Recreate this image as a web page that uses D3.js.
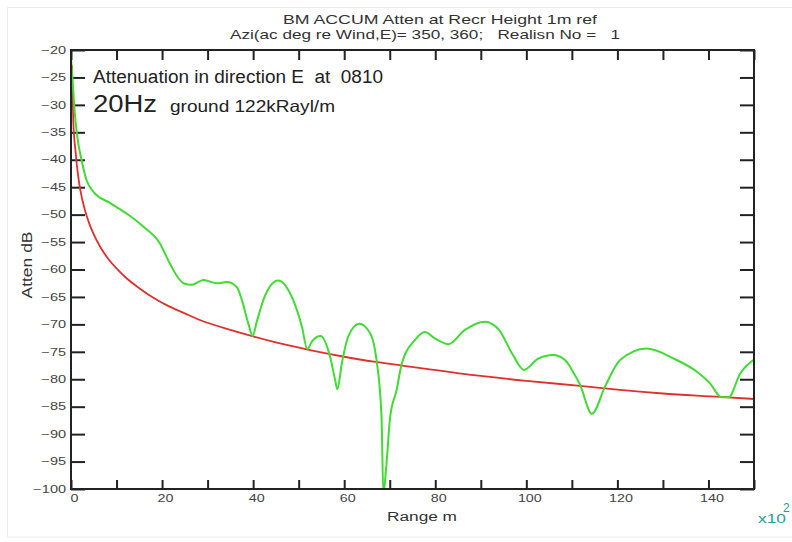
<!DOCTYPE html>
<html>
<head>
<meta charset="utf-8">
<script src="https://cdn.jsdelivr.net/npm/d3@7"></script>
<style>
  body { margin: 0; background: #fff; }
  text { font-family: "Liberation Sans", Arial, sans-serif; white-space: pre; }
</style>
</head>
<body>
<div id="chart"></div>
<script>
// Range (x100 m) and attenuation (dB)
const rangeGround = [0, 0.3, 0.9, 1.5, 2.3, 3.4, 4.9, 8.6, 12.2, 15.9, 19.5, 21.7, 24.7, 26.5, 29.1, 32, 34.2, 36.4, 37.5, 39, 39.9, 40.8, 42.5, 45.5, 48.8, 50.7, 51.9, 53, 54.8, 56.9, 58, 58.5, 59.5, 60.9, 63.3, 65.7, 67.1, 68.2, 68.6, 69.2, 70.1, 71.5, 72.6, 75.6, 77.7, 80, 82.9, 86.5, 90.9, 94, 97, 99.5, 102.5, 105.9, 108.5, 110.5, 111.8, 114.4, 117.3, 120.6, 126.4, 132.3, 137.4, 140.3, 142.9, 144.4, 147, 150];
const attenGround = [-21.5, -25, -32.2, -36.5, -40, -43.7, -45.8, -47.9, -49.8, -52.2, -55.2, -58.9, -62.5, -62.8, -61.9, -62.5, -62.3, -63.2, -65.5, -70, -72.1, -69.5, -65, -62, -65.6, -70.4, -74.5, -73, -72.1, -75.9, -80.1, -81.8, -77, -72.2, -69.9, -71.6, -76.5, -86.8, -101, -96.3, -86.8, -82, -77.3, -72.8, -71.4, -72.6, -73.6, -71, -69.5, -71, -75.5, -78.3, -76.3, -75.6, -76.5, -79, -81, -86.3, -81.3, -76.5, -74.4, -76.2, -78.6, -80.7, -83.3, -83.3, -78.9, -76.4];

const rangeRef = [0.2, 0.5, 1, 1.5, 2, 3, 4, 5, 6.5, 8.5, 10, 12.2, 15, 18, 21, 25, 28.3, 35, 40, 45, 52.5, 60, 66.5, 72.7, 78.8, 90, 100, 111.8, 120, 130, 142.5, 150];
const attenRef = [-22.8, -33, -38.5, -42.5, -45.3, -49, -51.6, -53.6, -56, -58.4, -59.8, -61.6, -63.4, -65.1, -66.5, -68, -69.2, -71, -72.2, -73.3, -74.7, -75.9, -76.8, -77.5, -78.2, -79.4, -80.3, -81.2, -81.9, -82.6, -83.2, -83.6];

const xTicks = d3.range(0, 151, 10);
const xLabels = [0, 20, 40, 60, 80, 100, 120, 140];
const yTicks = d3.range(-100, -19, 5);

const width = 792, height = 542;
const margin = {top: 50, right: 38, bottom: 53, left: 71};

const svg = d3.select('#chart')
    .append('svg')
    .attr('width', width)
    .attr('height', height);

// widen a text to k times its natural length
function stretch(sel, k) {
    sel.each(function() {
        const len = this.getComputedTextLength();
        if (len > 0) {
            d3.select(this).attr('textLength', len * k).attr('lengthAdjust', 'spacingAndGlyphs');
        }
    });
}

svg.append('rect')
    .attr('x', 7.5).attr('y', 7.5)
    .attr('width', 800).attr('height', 529.5)
    .attr('fill', '#fff')
    .attr('stroke', '#ececec');

const x = d3.scaleLinear().domain([0, 150]).range([margin.left, width - margin.right]);
const y = d3.scaleLinear().domain([-100, -20]).range([height - margin.bottom, margin.top]);

svg.append('clipPath').attr('id', 'plot')
    .append('rect')
    .attr('x', x(0)).attr('y', y(-20))
    .attr('width', x(150) - x(0)).attr('height', y(-100) - y(-20));

// Axes, ticks pointing inwards
const axisColor = '#222';
const axisBottomG = svg.append('g')
    .attr('transform', `translate(0,${y(-100)})`)
    .call(d3.axisBottom(x).tickValues(xTicks).tickSizeInner(-9).tickSizeOuter(0).tickPadding(5)
        .tickFormat(d => xLabels.includes(d) ? d : ''));
axisBottomG.selectAll('text').attr('font-size', '11px').attr('fill', '#444').attr('dx', 3)
    .call(stretch, 1.3);

const axisTopG = svg.append('g')
    .attr('transform', `translate(0,${y(-20)})`)
    .call(d3.axisTop(x).tickValues(xTicks).tickSizeInner(-10).tickSizeOuter(0).tickFormat(''));

const axisLeftG = svg.append('g')
    .attr('transform', `translate(${x(0)},0)`)
    .call(d3.axisLeft(y).tickValues(yTicks).tickSizeInner(-14).tickSizeOuter(0).tickPadding(5));
axisLeftG.selectAll('text').attr('font-size', '10px').attr('fill', '#444')
    .call(stretch, 1.45);

const axisRightG = svg.append('g')
    .attr('transform', `translate(${x(150)},0)`)
    .call(d3.axisRight(y).tickValues(yTicks).tickSizeInner(-14).tickSizeOuter(0).tickFormat(''));

[axisBottomG, axisTopG, axisLeftG, axisRightG].forEach(g => {
    g.select('.domain').remove();
    g.selectAll('line').attr('stroke', axisColor).attr('stroke-width', 2);
});

// Curves
const refData = rangeRef.map((r, i) => [r, attenRef[i]]);
const groundData = rangeGround.map((r, i) => [r, attenGround[i]]);
const line = d3.line()
    .x(d => x(d[0]))
    .y(d => y(d[1]))
    .curve(d3.curveMonotoneX);

const plot = svg.append('g').attr('clip-path', 'url(#plot)');
plot.append('path')
    .datum(refData)
    .attr('fill', 'none')
    .attr('stroke', '#e0302c')
    .attr('stroke-width', 1.8)
    .attr('d', line);
plot.append('path')
    .datum(groundData)
    .attr('fill', 'none')
    .attr('stroke', '#3fdc32')
    .attr('stroke-width', 2)
    .attr('d', line);

// Frame
svg.append('rect')
    .attr('x', x(0)).attr('y', y(-20))
    .attr('width', x(150) - x(0)).attr('height', y(-100) - y(-20))
    .attr('fill', 'none')
    .attr('stroke', axisColor)
    .attr('stroke-width', 2);

// Titles and labels
svg.append('text')
    .attr('x', 283).attr('y', 24)
    .attr('font-size', '13px').attr('fill', '#333')
    .attr('textLength', 314).attr('lengthAdjust', 'spacingAndGlyphs')
    .text('BM ACCUM Atten at Recr Height 1m ref');
svg.append('text')
    .attr('x', 230).attr('y', 38.5)
    .attr('font-size', '13px').attr('fill', '#333')
    .attr('textLength', 390).attr('lengthAdjust', 'spacingAndGlyphs')
    .text('Azi(ac deg re Wind,E)= 350, 360;   Realisn No =   1');

svg.append('text')
    .attr('x', 93).attr('y', 83)
    .attr('font-size', '18px').attr('fill', '#222')
    .attr('textLength', 290).attr('lengthAdjust', 'spacingAndGlyphs')
    .text('Attenuation in direction E  at  0810');
svg.append('text')
    .attr('x', 93).attr('y', 111.5)
    .attr('font-size', '24.5px').attr('fill', '#222')
    .attr('textLength', 64).attr('lengthAdjust', 'spacingAndGlyphs')
    .text('20Hz');
svg.append('text')
    .attr('x', 170).attr('y', 111.5)
    .attr('font-size', '16.5px').attr('fill', '#222')
    .attr('textLength', 165).attr('lengthAdjust', 'spacingAndGlyphs')
    .text('ground 122kRayl/m');

svg.append('text')
    .attr('x', 422).attr('y', 520.5)
    .attr('text-anchor', 'middle')
    .attr('font-size', '12.5px').attr('fill', '#333')
    .attr('textLength', 70).attr('lengthAdjust', 'spacingAndGlyphs')
    .text('Range m');

svg.append('text')
    .attr('transform', 'translate(32,265) rotate(-90)')
    .attr('text-anchor', 'middle')
    .attr('font-size', '14px').attr('fill', '#333')
    .attr('textLength', 67).attr('lengthAdjust', 'spacingAndGlyphs')
    .text('Atten dB');

svg.append('text')
    .attr('x', 758).attr('y', 523)
    .attr('font-size', '13px').attr('fill', '#2a9d96')
    .attr('textLength', 28).attr('lengthAdjust', 'spacingAndGlyphs')
    .text('x10');
svg.append('text')
    .attr('x', 783).attr('y', 512)
    .attr('font-size', '12px').attr('fill', '#2a9d96')
    .text('2');
</script>
</body>
</html>
